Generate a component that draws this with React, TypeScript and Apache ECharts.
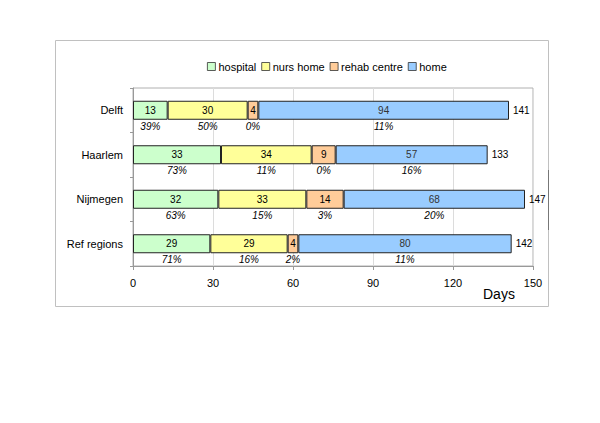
import React, { useEffect, useRef } from "react";
import * as echarts from "echarts";

const categories = ["Delft", "Haarlem", "Nijmegen", "Ref regions"];
const seriesNames = ["hospital", "nurs home", "rehab centre", "home"];
const hospital = [13, 33, 32, 29];
const nursHome = [30, 34, 33, 29];
const rehab = [4, 9, 14, 4];
const home = [94, 57, 68, 80];
const hospitalPct = [39, 73, 63, 71];
const nursHomePct = [50, 11, 15, 16];
const rehabPct = [0, 0, 3, 2];
const homePct = [11, 16, 20, 11];
const xTicks = [0, 30, 60, 90, 120, 150];
const colors = ["#ccffcc", "#ffff99", "#ffcc99", "#99ccff"];

const FONT = "Liberation Sans, Arial, sans-serif";

export default function App() {
  const ref = useRef<HTMLDivElement>(null);
  useEffect(() => {
    document.body.style.margin = "0";
    if (!ref.current) return;
    const chart = echarts.init(ref.current, null, { renderer: "svg" });
    const values = [hospital, nursHome, rehab, home];
    const pcts = [hospitalPct, nursHomePct, rehabPct, homePct];
    const totals = categories.map((_, i) => values.reduce((s, v) => s + v[i], 0));

    const pctData: any[] = [];
    categories.forEach((c, i) => {
      let cum = 0;
      values.forEach((v, k) => {
        const center = cum + v[i] / 2;
        cum += v[i];
        pctData.push({ value: [center, c], pct: pcts[k][i] });
      });
    });

    const barSeries = seriesNames.map((name, k) => ({
      name,
      type: "bar",
      stack: "total",
      barWidth: 19,
      data: values[k],
      itemStyle: { color: colors[k], borderColor: "#222", borderWidth: 1 },
      label: {
        show: true,
        position: "inside",
        fontSize: 10,
        fontFamily: FONT,
        color: k === 3 ? "#333" : "#000",
      },
      emphasis: { disabled: true },
    }));

    chart.setOption({
      animation: false,
      textStyle: { fontFamily: FONT },
      legend: {
        data: seriesNames,
        top: 56,
        left: 202,
        itemWidth: 8,
        itemHeight: 8,
        itemGap: 5,
        icon: "rect",
        itemStyle: { borderWidth: 0.8, borderColor: "#333" },
        textStyle: { fontSize: 11, color: "#000", fontFamily: FONT, padding: [0, 0, 0, -2] },
      },
      grid: {
        left: 133,
        right: 67,
        top: 88,
        bottom: 157,
        show: true,
        borderColor: "#b0b0b0",
        borderWidth: 1,
      },
      xAxis: {
        type: "value",
        min: 0,
        max: 150,
        interval: 30,
        axisLine: { show: true, lineStyle: { color: "#999" } },
        axisTick: { show: true, length: 4, lineStyle: { color: "#999" } },
        axisLabel: {
          fontSize: 11,
          color: "#000",
          margin: 11,
          fontFamily: FONT,
          formatter: (v: number) => (xTicks.includes(v) ? String(v) : ""),
        },
        splitLine: { show: true, lineStyle: { color: "#dcdcdc" } },
      },
      yAxis: {
        type: "category",
        data: categories,
        inverse: true,
        axisLine: { show: true, lineStyle: { color: "#999" } },
        axisTick: { show: true, length: 3, lineStyle: { color: "#999" } },
        axisLabel: { fontSize: 11, color: "#000", margin: 10, fontFamily: FONT },
      },
      series: [
        ...barSeries,
        {
          type: "scatter",
          symbolSize: 0,
          itemStyle: { opacity: 1 },
          data: pctData,
          label: {
            show: true,
            position: "inside",
            offset: [0, 16],
            fontSize: 10,
            fontStyle: "italic",
            color: "#000",
            opacity: 1,
            fontFamily: FONT,
            formatter: (p: any) => p.data.pct + "%",
          },
          emphasis: { disabled: true },
          z: 5,
        },
        {
          type: "scatter",
          symbolSize: 0,
          itemStyle: { opacity: 1 },
          data: categories.map((c, i) => [totals[i], c]),
          label: {
            show: true,
            position: "right",
            distance: 4,
            fontSize: 10,
            color: "#000",
            opacity: 1,
            fontFamily: FONT,
            formatter: (p: any) => String(p.value[0]),
          },
          emphasis: { disabled: true },
          z: 5,
        },
      ],
      graphic: [
        {
          type: "rect",
          shape: { x: 55.5, y: 40.5, width: 493, height: 266 },
          style: { fill: "none", stroke: "#c0c0c0", lineWidth: 1 },
          silent: true,
        },
        {
          type: "line",
          shape: { x1: 548.5, y1: 170, x2: 548.5, y2: 230 },
          style: { stroke: "#777", lineWidth: 1 },
          silent: true,
        },
        {
          type: "text",
          left: 483,
          top: 287,
          style: { text: "Days", fontSize: 14, fill: "#000", fontFamily: FONT },
          silent: true,
        },
      ],
    });
    return () => chart.dispose();
  }, []);
  return <div ref={ref} style={{ width: 600, height: 423 }} />;
}
